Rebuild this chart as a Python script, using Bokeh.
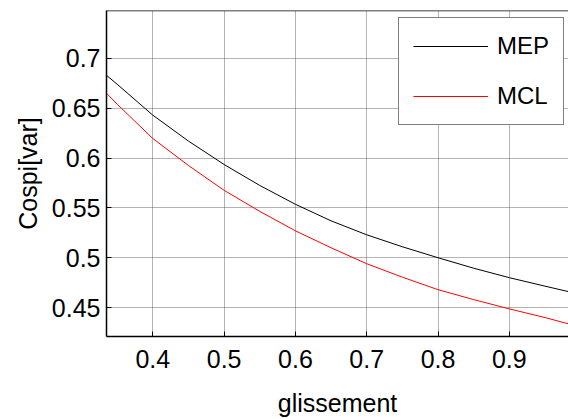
from bokeh.plotting import figure
from bokeh.models import Range1d, Legend, LegendItem, FixedTicker, Span
from bokeh.embed import file_html
from bokeh.resources import INLINE

glissement = [0.335, 0.35, 0.4, 0.45, 0.5, 0.55, 0.6, 0.65, 0.7, 0.75, 0.8, 0.85, 0.9, 0.95, 0.983]
mep = [0.683, 0.674, 0.643, 0.617, 0.5935, 0.5725, 0.5536, 0.537, 0.523, 0.511, 0.500, 0.4895, 0.480, 0.4715, 0.466]
mcl = [0.665, 0.654, 0.6196, 0.5925, 0.5676, 0.5465, 0.527, 0.510, 0.494, 0.4805, 0.468, 0.458, 0.4487, 0.440, 0.4337]
xticks = [0.4, 0.5, 0.6, 0.7, 0.8, 0.9]
yticks = [0.45, 0.5, 0.55, 0.6, 0.65, 0.7]

FONT = "Liberation Sans"
X_LO, X_HI = 0.335, 0.983
Y_LO, Y_HI = 0.421, 0.748

p = figure(width=568, height=419, output_backend="svg", toolbar_location=None,
           x_range=Range1d(X_LO, X_HI), y_range=Range1d(Y_LO, Y_HI),
           min_border_left=106, min_border_right=0, min_border_top=10, min_border_bottom=83)
p.outline_line_color = None
p.background_fill_color = "white"
p.border_fill_color = "white"

p.grid.grid_line_color = "#444444"
p.grid.grid_line_dash = "1 1"
p.grid.grid_line_alpha = 0.8
p.xgrid.ticker = FixedTicker(ticks=xticks)
p.ygrid.ticker = FixedTicker(ticks=yticks)

r1 = p.line(glissement, mep, line_color="black", line_width=1)
r2 = p.line(glissement, mcl, line_color="red", line_width=1)

for ax in (p.xaxis[0], p.yaxis[0]):
    ax.axis_line_color = "black"
    ax.axis_line_width = 1.5
    ax.major_tick_in = 5
    ax.major_tick_out = 0
    ax.minor_tick_line_color = None
    ax.major_label_text_font = FONT
    ax.major_label_text_font_size = "25px"
    ax.major_label_text_color = "black"
    ax.axis_label_text_font = FONT
    ax.axis_label_text_font_size = "25px"
    ax.axis_label_text_font_style = "normal"
    ax.axis_label_text_color = "black"

p.xaxis[0].ticker = FixedTicker(ticks=xticks)
p.yaxis[0].ticker = FixedTicker(ticks=yticks)
p.xaxis[0].major_label_standoff = 13
p.yaxis[0].major_label_standoff = 6
p.xaxis.axis_label = "glissement"
p.yaxis.axis_label = "Cospi[var]"
p.xaxis[0].axis_label_standoff = 18
p.yaxis[0].axis_label_standoff = 7

p.add_layout(Span(location=Y_HI, dimension="width", line_color="black", line_width=1.5))

legend = Legend(items=[LegendItem(label="MEP", renderers=[r1]),
                       LegendItem(label="MCL", renderers=[r2])],
                location=(292, 211))
legend.label_text_font = FONT
legend.label_text_font_size = "24px"
legend.label_text_color = "black"
legend.glyph_width = 75
legend.glyph_height = 24
legend.label_height = 24
legend.label_standoff = 9
legend.spacing = 22
legend.padding = 14
legend.margin = 0
legend.border_line_color = "black"
legend.border_line_width = 1.2
legend.background_fill_alpha = 1
p.add_layout(legend)

open("out.html", "w").write(file_html(p, INLINE))
